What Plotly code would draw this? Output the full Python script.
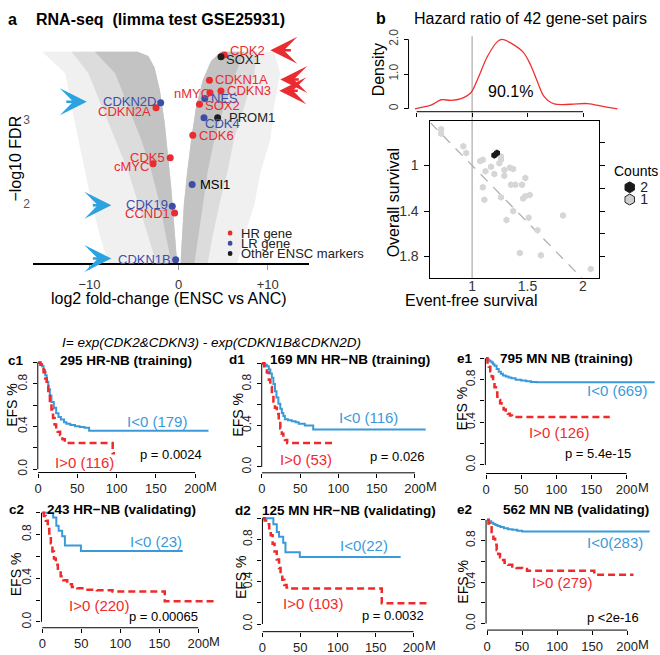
import plotly.graph_objects as go

W, H = 660, 655
FONT = "Liberation Sans, Arial, Helvetica, sans-serif"
RED = "#ea2b2f"
BLUE_PT = "#3c4fa8"
BLACK_PT = "#1e1e1e"
KM_BLUE = "#3a9ad9"
KM_RED = "#f02a2a"
ARROW_BLUE = "#2aa3e0"

# ---------------- data ----------------
# Panel a: outline of the grey gene cloud (log2 FC, -log10 FDR)
band_y = [3.82, 3.56, 3.16, 2.77, 2.39, 1.99, 1.60, 1.29]
left_sparse_x = [-15.3, -12.7, -12.0, -11.2, -10.5, -9.7, -8.8, -7.9]
left_mid_x = [-12.0, -10.1, -8.6, -7.1, -5.65, -4.5, -3.4, -2.5]
left_dense_x = [-9.4, -7.1, -5.65, -4.2, -3.05, -2.1, -1.4, -0.8]
inner_left_x = [-4.6, -3.4, -2.7, -2.1, -1.56, -1.19, -0.82, -0.56, -0.27, -0.16]
inner_left_y = [3.82, 3.77, 3.63, 3.36, 2.97, 2.58, 2.19, 1.80, 1.45, 1.29]
inner_right_x = [0.22, 0.37, 0.59, 0.96, 1.41, 1.96, 2.71, 3.64, 4.75]
inner_right_y = [1.29, 1.60, 1.99, 2.38, 2.77, 3.16, 3.48, 3.71, 3.82]
right_dense_x = [7.36, 6.4, 5.1, 4.0, 3.27, 2.7, 2.15, 1.78]
right_mid_x = [8.8, 8.5, 7.36, 6.2, 5.5, 4.57, 3.8, 3.27]
right_sparse_x = [10.7, 11.4, 10.7, 10.3, 9.2, 8.5, 7.36, 6.6]

genes = ["CDK2", "SOX1", "CDKN1A", "CDKN3", "nMYC", "NES", "SOX2", "PROM1", "CDK4",
         "CDK6", "CDKN2D", "CDKN2A", "CDK5", "cMYC", "MSI1", "CDK19", "CCND1", "CDKN1B"]
gene_lfc = [5.13, 4.75, 3.46, 4.75, 3.52, 2.93, 2.34, 4.38, 2.85,
            1.59, -2.01, -2.53, -0.94, -2.87, 1.52, -0.71, -0.45, -0.33]
gene_fdr = [3.78, 3.76, 3.48, 3.35, 3.33, 3.26, 3.19, 3.03, 3.03,
            2.82, 3.21, 3.15, 2.55, 2.48, 2.23, 1.97, 1.89, 1.33]
gene_group = ["HR", "Other", "HR", "HR", "HR", "LR", "HR", "Other", "LR",
              "HR", "LR", "HR", "HR", "HR", "LR", "LR", "HR", "LR"]
legend_groups = ["HR", "LR", "Other"]
legend_labels = ["HR gene", "LR gene", "Other ENSC markers"]

# Panel b: hazard ratios of gene-set pairs
hr_efs = [0.72, 0.72, 0.92, 0.946, 1.072, 1.096, 1.12, 1.17, 1.20, 1.26, 1.26, 1.245,
          1.29, 1.29, 1.34, 1.37, 1.096, 1.26, 1.11, 1.35, 1.39, 1.45, 1.48, 1.46,
          1.48, 1.52, 1.37, 1.31, 1.51, 1.82, 1.59, 1.43, 1.62, 2.07, 1.20, 1.224]
hr_os = [0.68, 0.72, 0.83, 0.89, 0.96, 0.95, 1.05, 1.01, 1.075, 0.92, 0.95, 0.98,
         1.04, 1.09, 1.02, 1.03, 1.19, 1.28, 1.30, 1.17, 1.17, 1.17, 1.11, 1.29,
         1.27, 1.26, 1.40, 1.48, 1.46, 1.44, 1.57, 1.77, 1.79, 1.91, 0.91, 0.89]
hr_count = [1] * 34 + [2, 2]
count_levels = [2, 1]

dens_x = [0.483, 0.634, 0.72, 0.81, 0.90, 0.99, 1.05, 1.14, 1.23, 1.27, 1.35, 1.46,
          1.53, 1.59, 1.65, 1.74, 1.89, 2.04, 2.19, 2.31]
dens_y = [0.0, 0.11, 0.26, 0.24, 0.29, 0.47, 0.86, 1.52, 1.94, 2.0, 1.89, 1.63,
          1.24, 0.77, 0.35, 0.14, 0.13, 0.15, 0.06, 0.0]

# Panels c-e: Kaplan-Meier EFS (months, survival)
c1_low_t = [0, 3, 5, 7, 9, 11, 13, 15, 17, 20, 23, 26, 29, 33, 36, 41, 47, 53, 59, 65, 217]
c1_low_s = [1, .985, .966, .93, .88, .82, .75, .69, .63, .575, .525, .49, .465, .44, .427, .415, .403, .395, .388, .36, .36]
c1_high_t = [0, 3, 5, 7, 9, 11, 13, 15, 17, 19, 21, 23, 25, 28, 31, 34, 95, 98]
c1_high_s = [1, .98, .95, .91, .85, .78, .71, .64, .56, .48, .42, .38, .35, .32, .28, .245, .15, .15]

d1_low_t = [0, 4, 6.5, 9, 11, 13, 15, 17, 19, 21.5, 24, 26, 28, 30, 34, 39, 44, 48, 56, 67, 214]
d1_low_s = [1, .985, .97, .94, .9, .86, .80, .73, .67, .61, .56, .52, .49, .46, .45, .44, .43, .417, .40, .36, .36]
d1_high_t = [0, 3, 6.5, 9, 11, 13, 15, 17, 19.5, 22, 24, 26, 28, 30, 33, 93]
d1_high_s = [1, .97, .91, .84, .77, .70, .63, .57, .51, .44, .37, .32, .28, .26, .23, .23]

e1_low_t = [0, 2, 4, 6, 8, 10, 12, 15, 18, 21, 24, 28, 32, 36, 42, 50, 57, 64, 72, 240]
e1_low_s = [1, .99, .98, .97, .96, .945, .93, .90, .875, .855, .84, .83, .82, .813, .80, .792, .785, .778, .775, .775]
e1_high_t = [0, 2, 4, 6, 8, 10, 12, 14, 16, 18, 20, 22, 25, 28, 31, 34, 37, 176]
e1_high_s = [1, .96, .92, .88, .83, .78, .73, .68, .64, .61, .58, .555, .52, .50, .48, .465, .45, .45]

c2_low_t = [0, 14, 18, 21, 25.5, 29, 49.5, 180]
c2_low_s = [1, .955, .88, .835, .785, .70, .65, .65]
c2_high_t = [0, 2, 4.6, 7, 9, 11, 13, 15, 17.3, 20, 23.6, 27, 32, 38, 45, 55, 70, 90, 157, 224]
c2_high_s = [1, .97, .926, .85, .79, .72, .645, .58, .523, .47, .418, .38, .344, .32, .307, .295, .289, .277, .188, .188]

d2_low_t = [0, 14.5, 19, 22, 27.5, 30.5, 49.5, 183]
d2_low_s = [1, .945, .87, .825, .77, .68, .635, .635]
d2_high_t = [0, 3, 6.6, 9, 11, 13.5, 16, 19, 22, 24, 26.3, 29, 32, 35, 158, 218]
d2_high_s = [1, .98, .945, .89, .84, .76, .685, .61, .53, .47, .42, .37, .345, .335, .196, .196]

e2_low_t = [0, 3, 6, 9, 12, 15, 19, 24, 30, 36, 43, 50, 232]
e2_low_s = [1, .985, .972, .96, .95, .94, .93, .918, .91, .903, .895, .887, .887]
e2_high_t = [0, 2, 4.3, 6.5, 9, 11.5, 13.7, 16, 18.5, 21, 25, 30, 36, 42, 50, 57, 153, 209]
e2_high_s = [1, .965, .927, .87, .818, .76, .71, .67, .64, .613, .585, .566, .55, .535, .525, .509, .47, .47]

km_titles = ["295 HR-NB (training)", "169 MN HR\u2212NB (training)", "795 MN NB (training)",
             "243 HR\u2212NB (validating)", "125 MN HR\u2212NB (validating)", "562 MN NB (validating)"]
km_low_labels = ["I<0 (179)", "I<0 (116)", "I<0 (669)", "I<0 (23)", "I<0(22)", "I<0(283)"]
km_high_labels = ["I>0 (116)", "I>0 (53)", "I>0 (126)", "I>0 (220)", "I>0 (103)", "I>0 (279)"]
km_pvalues = ["p = 0.0024", "p = 0.026", "p = 5.4e-15", "p = 0.00065", "p = 0.0032", "p <2e-16"]
km_keys = ["c1", "d1", "e1", "c2", "d2", "e2"]
km_curves = [(c1_low_t, c1_low_s, c1_high_t, c1_high_s),
             (d1_low_t, d1_low_s, d1_high_t, d1_high_s),
             (e1_low_t, e1_low_s, e1_high_t, e1_high_s),
             (c2_low_t, c2_low_s, c2_high_t, c2_high_s),
             (d2_low_t, d2_low_s, d2_high_t, d2_high_s),
             (e2_low_t, e2_low_s, e2_high_t, e2_high_s)]

# ---------------- layout helpers (pixel geometry) ----------------
def P(x):
    return x / W


def Q(y):
    return 1 - y / H


fig = go.Figure()
layout = dict(width=W, height=H, margin=dict(l=0, r=0, t=0, b=0),
              paper_bgcolor="white", plot_bgcolor="rgba(0,0,0,0)", showlegend=False,
              font=dict(family=FONT, size=13, color="black"))
annotations = []
shapes = []


def txt(s, x, y, size=13, color="black", bold=False, italic=False, anchor="center", angle=0):
    if bold:
        s = "<b>" + s + "</b>"
    if italic:
        s = "<i>" + s + "</i>"
    annotations.append(dict(text=s, x=P(x), y=Q(y), xref="paper", yref="paper", showarrow=False,
                            xanchor=anchor, yanchor="middle", textangle=angle, borderpad=0,
                            font=dict(size=size, color=color, family=FONT)))


def base_axis(**kw):
    d = dict(showgrid=False, zeroline=False, showline=False, ticks="", showticklabels=True,
             linecolor="black", tickcolor="black", fixedrange=True)
    d.update(kw)
    return d


# ---------------- panel a: volcano ----------------
layout["xaxis"] = base_axis(domain=[P(29), P(307)], range=[-16.35, 14.64], anchor="y",
                            showline=True, linewidth=1.5, ticks="outside", ticklen=5, tickcolor="#999",
                            tickvals=[-10, 0, 10], ticktext=["\u221210", "0", "+10"],
                            tickfont=dict(size=13, color="#333"), ticklabelstandoff=3)
layout["yaxis"] = base_axis(domain=[Q(262), Q(40)], range=[1.285, 3.887], anchor="x",
                            tickvals=[2, 3], ticktext=["2", "3"], tickfont=dict(size=12, color="#555"),
                            ticklabelstandoff=2)


def poly(xs, ys, color, xa="x", ya="y"):
    fig.add_trace(go.Scatter(x=xs, y=ys, mode="lines", fill="toself", fillcolor=color,
                             line=dict(width=0, color=color), hoverinfo="skip", xaxis=xa, yaxis=ya))


for outer, col in [(left_sparse_x, "#f0f0f0"), (left_mid_x, "#dcdcdc"), (left_dense_x, "#c3c3c3")]:
    poly(outer + inner_left_x[::-1], band_y + inner_left_y[::-1], col)
for outer, col in [(right_sparse_x, "#f0f0f0"), (right_mid_x, "#dcdcdc"), (right_dense_x, "#c3c3c3")]:
    poly(inner_right_x + outer, inner_right_y + band_y, col)

group_color = {"HR": RED, "LR": BLUE_PT, "Other": BLACK_PT}
for g in legend_groups:
    idx = [i for i, gg in enumerate(gene_group) if gg == g]
    fig.add_trace(go.Scatter(x=[gene_lfc[i] for i in idx], y=[gene_fdr[i] for i in idx], mode="markers",
                             marker=dict(size=7, color=group_color[g]), xaxis="x", yaxis="y",
                             hoverinfo="skip"))

# label placement: (anchor, x offset px, y offset px, colour override)
label_style = {
    "CDK2": ("left", 5, 5, None), "SOX1": ("left", 4, -3, None), "CDKN1A": ("left", 5, 0.5, None),
    "CDKN3": ("left", 5, 0.5, None), "nMYC": ("right", 1, -0.7, None), "NES": ("left", 5.5, 0, None),
    "SOX2": ("left", 5, -0.7, None), "PROM1": ("left", 10, 0, None), "CDK4": ("left", 0, -6, None),
    "CDK6": ("left", 5, 0, None), "CDKN2D": ("right", -4, 1, None), "CDKN2A": ("right", -4, -3.4, None),
    "CDK5": ("right", -4.5, 0.3, None), "cMYC": ("right", -3.5, -3.3, None), "MSI1": ("left", 6.5, -0.3, "black"),
    "CDK19": ("right", -3, 1.3, None), "CCND1": ("right", -4, -0.7, None), "CDKN1B": ("right", -3.5, 0.3, None),
}
for name, lx, ly, g in zip(genes, gene_lfc, gene_fdr, gene_group):
    anc, dx, dy, col = label_style[name]
    annotations.append(dict(text=name, x=lx, y=ly, xref="x", yref="y", showarrow=False, xanchor=anc,
                            yanchor="middle", xshift=dx, yshift=dy, borderpad=0,
                            font=dict(size=13, color=col or group_color[g], family=FONT)))

# legend of panel a (category axis)
layout["xaxis11"] = base_axis(domain=[P(225), P(230)], range=[0, 1], anchor="y11", visible=False)
layout["yaxis11"] = base_axis(domain=[Q(257.25), Q(225.75)], type="category", categoryorder="array",
                              categoryarray=legend_labels, range=[2.5, -0.5], anchor="x11",
                              visible=False)
fig.add_trace(go.Scatter(x=[0.5] * 3, y=legend_labels, mode="markers", xaxis="x11", yaxis="y11",
                         marker=dict(size=5, color=[group_color[g] for g in legend_groups]), hoverinfo="skip"))
for lab in legend_labels:
    annotations.append(dict(text=lab, x=1, y=lab, xref="x11", yref="y11", showarrow=False, xanchor="left",
                            yanchor="middle", xshift=7, borderpad=0,
                            font=dict(size=13, color="#222", family=FONT)))


def arrow(tx, ty, dx, color):
    annotations.append(dict(x=P(tx), y=Q(ty), xref="paper", yref="paper", ax=dx, ay=0, text="",
                            showarrow=True, arrowhead=3, arrowsize=1.8, arrowwidth=2.5, arrowcolor=color))


arrow(268, 44.3, 22, RED)
arrow(278, 74, 20, RED)
arrow(277, 85.5, 20, RED)
arrow(83.3, 96.7, -22, ARROW_BLUE)
arrow(108, 202.5, -20, ARROW_BLUE)
arrow(108, 257, -20, ARROW_BLUE)

txt("a", 9, 13, 16, bold=True)
txt("RNA-seq\u00a0 (limma test GSE25931)", 31, 13, 16, bold=True, anchor="left")
txt("\u2212log10 FDR", 12, 155, 16, angle=-90)
txt("log2 fold-change (ENSC vs ANC)", 166, 298, 16)

# ---------------- panel b: density ----------------
layout["xaxis2"] = base_axis(domain=[P(407), P(620)], range=[0.426, 2.336], anchor="y2", ticks="outside",
                             ticklen=4, tickvals=[0.5, 1, 1.5, 2], showticklabels=False)
layout["yaxis2"] = base_axis(domain=[Q(107), Q(30)], range=[-0.0845, 2.0845], anchor="x2", ticks="outside",
                             ticklen=4, tickvals=[0, 1, 2], ticktext=["0", "1.0", "2.0"], tickangle=-90,
                             tickfont=dict(size=12, color="#444"), ticklabelstandoff=1)
fig.add_trace(go.Scatter(x=dens_x, y=dens_y, mode="lines", line=dict(color="#f03030", width=1.3, shape="spline"),
                         xaxis="x2", yaxis="y2", hoverinfo="skip"))
shapes.append(dict(type="line", xref="x2", x0=0.5, x1=2.0, yref="y2 domain", y0=0, y1=0,
                   line=dict(color="black", width=1)))
shapes.append(dict(type="line", xref="x2 domain", x0=0, x1=0, yref="y2", y0=0, y1=2,
                   line=dict(color="black", width=1)))
shapes.append(dict(type="line", xref="x2", x0=1, x1=1, yref="paper", y0=Q(277), y1=Q(30),
                   line=dict(color="#bdbdbd", width=1.5), layer="below"))

# ---------------- panel b: scatter ----------------
layout["xaxis3"] = base_axis(domain=[P(429), P(599)], range=[0.623, 2.148], anchor="y3", showline=True,
                             mirror=True, linewidth=1, ticks="", tickvals=[1, 1.5, 2],
                             ticktext=["1", "1.5", "2"], tickfont=dict(size=14, color="#333"),
                             ticklabelstandoff=-5)
layout["yaxis3"] = base_axis(domain=[Q(277), Q(116)], range=[1.99, 0.604], anchor="x3", showline=True,
                             mirror=True, linewidth=1, ticks="outside", ticklen=5, tickvals=[1, 1.4, 1.8],
                             ticktext=["1", "1.4", "1.8"], tickfont=dict(size=14, color="#333"),
                             ticklabelstandoff=3)
layout["yaxis10"] = base_axis(overlaying="y3", side="right", anchor="x3", range=[1.99, 0.604],
                              ticks="outside", ticklen=5, tickvals=[0.8, 1.0, 1.2, 1.4, 1.6, 1.8],
                              showticklabels=False)
fig.add_trace(go.Scatter(x=[None], y=[None], xaxis="x3", yaxis="y10", mode="markers", hoverinfo="skip"))
shapes.append(dict(type="line", xref="x3", yref="y3", x0=0.623, y0=0.623, x1=1.99, y1=1.99,
                   line=dict(color="#b0b0b0", width=1.3, dash="10px,8px"), layer="below"))
light = [i for i, c in enumerate(hr_count) if c == 1]
dark = [i for i, c in enumerate(hr_count) if c == 2]
fig.add_trace(go.Scatter(x=[hr_efs[i] for i in light], y=[hr_os[i] for i in light], mode="markers",
                         marker=dict(symbol="hexagon", size=7, color="#d6d6d6"), xaxis="x3", yaxis="y3",
                         hoverinfo="skip"))
fig.add_trace(go.Scatter(x=[hr_efs[i] for i in dark], y=[hr_os[i] for i in dark], mode="markers",
                         marker=dict(symbol="hexagon", size=7, color="#1a1a1a"), xaxis="x3", yaxis="y3",
                         hoverinfo="skip"))

# counts legend
layout["xaxis12"] = base_axis(domain=[P(624), P(635)], range=[0, 1], anchor="y12", visible=False)
layout["yaxis12"] = base_axis(domain=[Q(203), Q(178)], range=[0.5, 2.5], anchor="x12", side="right",
                              tickvals=count_levels, ticktext=[str(c) for c in count_levels],
                              tickfont=dict(size=14, color="#222"), ticklabelstandoff=4)
fig.add_trace(go.Scatter(x=[0.5, 0.5], y=count_levels, mode="markers", xaxis="x12", yaxis="y12", hoverinfo="skip",
                         marker=dict(symbol="hexagon", size=11, color=["#1a1a1a", "#cfcfcf"],
                                     line=dict(color="#222", width=1))))

txt("b", 379, 12, 16, bold=True)
txt("Hazard ratio of 42 gene-set pairs", 530, 12, 16)
txt("Density", 377, 64, 16, angle=-90)
txt("90.1%", 510, 86, 16)
txt("Overall survival", 392, 200, 16, angle=-90)
txt("Event-free survival", 470, 300, 16)
txt("Counts", 613, 168, 14, anchor="left")

# ---------------- panels c-e: Kaplan-Meier ----------------
# geometry: x0 px (t=0), px per month, y0 py (S=0), px per unit S, x-axis py, y-axis px, max month shown
km_geom = [
    (34.3, 0.79, 472.3, 109.0, 475.7, 34.0, 220),
    (259.5, 0.77, 470.0, 106.0, 476.0, 259.3, 222),
    (485.0, 0.707, 468.0, 109.0, 476.7, 484.3, 245),
    (38.5, 0.785, 628.3, 111.6, 634.3, 37.7, 228),
    (260.0, 0.76, 630.5, 108.0, 638.3, 260.0, 222),
    (486.0, 0.705, 630.0, 106.0, 636.7, 485.0, 236),
]
# text positions (px): key label, title centre, low label, high label, p value, EFS label
km_text = [
    ((12, 361), (122.7, 361), (153.5, 424), (81, 465), (168, 457), (8.5, 406)),
    ((234, 360), (348, 360), (366.7, 419), (303.7, 462), (396, 459), (236, 417)),
    ((463.5, 359), (565.7, 359), (617, 392), (558, 435), (598, 456), (461, 410)),
    ((12.5, 513), (118, 513), (153, 546), (95.5, 611.7), (160, 623.3), (11.7, 580)),
    ((240, 514), (347.5, 514), (361.7, 550), (310.5, 609.3), (391.7, 621.7), (238, 583)),
    ((463.5, 513), (575, 513), (614.7, 547), (561.7, 587.7), (613, 624), (462, 587)),
]

for i, key in enumerate(km_keys):
    n = 4 + i
    xa, ya = "x%d" % n, "y%d" % n
    x0px, kx, y0py, ky, xline_py, yline_px, xmax = km_geom[i]
    ytop = 1.04
    layout["xaxis%d" % n] = base_axis(domain=[P(yline_px), P(x0px + kx * xmax)],
                                      range=[(yline_px - x0px) / kx, xmax], anchor=ya, ticks="outside",
                                      ticklen=4, tickvals=[0, 50, 100, 150, 200],
                                      ticktext=["0", "50", "100", "150", "200"],
                                      tickfont=dict(size=13, color="#222"), ticklabelstandoff=0)
    layout["yaxis%d" % n] = base_axis(domain=[Q(xline_py), Q(y0py - ky * ytop)],
                                      range=[-(xline_py - y0py) / ky, ytop], anchor=xa, ticks="outside",
                                      ticklen=4, tickvals=[0, 0.2, 0.4, 0.6, 0.8, 1.0],
                                      ticktext=["0.0", "", "0.4", "", "0.8", ""], tickangle=-90,
                                      tickfont=dict(size=12, color="#222"), ticklabelstandoff=1)
    shapes.append(dict(type="line", xref=xa, x0=0, x1=200, yref=ya + " domain", y0=0, y1=0,
                       line=dict(color="black", width=1)))
    shapes.append(dict(type="line", xref=xa + " domain", x0=0, x1=0, yref=ya, y0=0, y1=1,
                       line=dict(color="black", width=1)))
    lt, ls, ht, hs = km_curves[i]
    fig.add_trace(go.Scatter(x=lt, y=ls, mode="lines", line=dict(color=KM_BLUE, width=2, shape="hv"),
                             xaxis=xa, yaxis=ya, hoverinfo="skip"))
    fig.add_trace(go.Scatter(x=ht, y=hs, mode="lines",
                             line=dict(color=KM_RED, width=2.5, shape="hv", dash="7px,4px"),
                             xaxis=xa, yaxis=ya, hoverinfo="skip"))
    annotations.append(dict(text="M", x=200, xref=xa, y=0, yref=ya + " domain", xanchor="left",
                            yanchor="middle", xshift=10, yshift=-14, showarrow=False, borderpad=0,
                            font=dict(size=13, color="#222", family=FONT)))
    kt, tt, lo, hi, pv, ef = km_text[i]
    txt(key, kt[0], kt[1], 13.5, bold=True)
    txt(km_titles[i], tt[0], tt[1], 13.5, bold=True)
    txt(km_low_labels[i], lo[0], lo[1], 15, color=KM_BLUE)
    txt(km_high_labels[i], hi[0], hi[1], 15, color=KM_RED)
    txt(km_pvalues[i], pv[0], pv[1], 13)
    txt("EFS %", ef[0], ef[1], 14, angle=-90)

txt("I= exp(CDK2&amp;CDKN3) - exp(CDKN1B&amp;CDKN2D)", 57, 342.7, 13.5, italic=True, anchor="left")

layout["annotations"] = annotations
layout["shapes"] = shapes
fig.update_layout(**layout)
fig.write_html("out.html", config={"displayModeBar": False},
               post_script="document.body.style.margin='0';document.body.style.overflow='hidden';")
